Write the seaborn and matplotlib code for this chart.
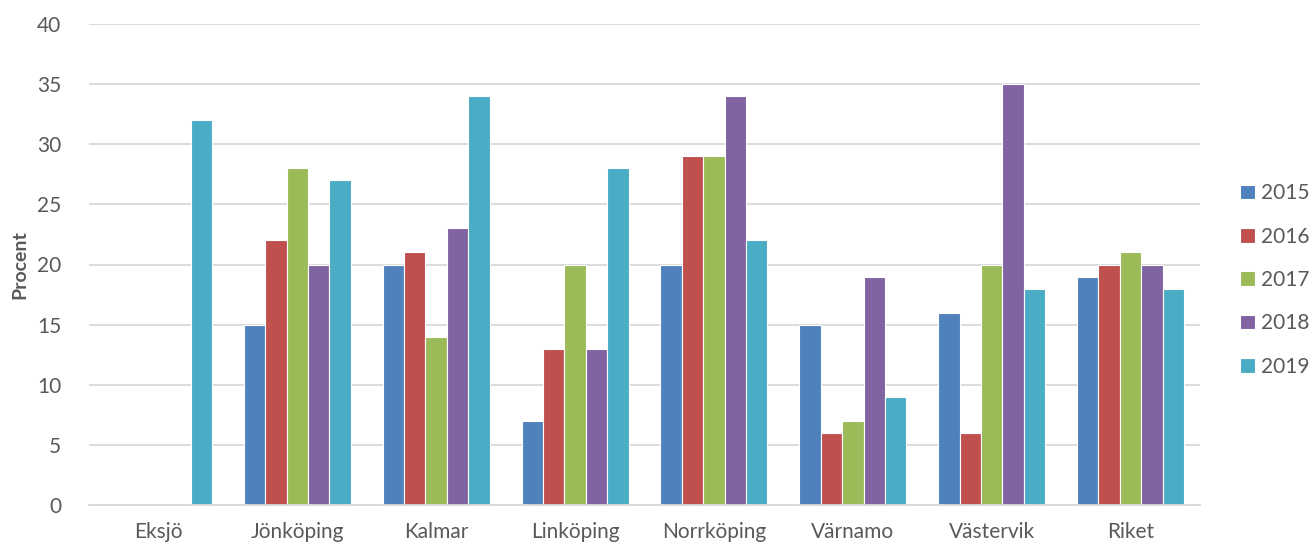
import numpy as np
import pandas as pd
import matplotlib
matplotlib.use("Agg")
import matplotlib.pyplot as plt
import seaborn as sns

# ── Data ──────────────────────────────────────────────────────────────────
CITIES = ["Eksjö", "Jönköping", "Kalmar", "Linköping", "Norrköping",
          "Värnamo", "Västervik", "Riket"]
YEARS = ["2015", "2016", "2017", "2018", "2019"]
V2015 = [np.nan, 15, 20, 7, 20, 15, 16, 19]
V2016 = [np.nan, 22, 21, 13, 29, 6, 6, 20]
V2017 = [np.nan, 28, 14, 20, 29, 7, 20, 21]
V2018 = [np.nan, 20, 23, 13, 34, 19, 35, 20]
V2019 = [32, 27, 34, 28, 22, 9, 18, 18]
YTICKS = [0, 5, 10, 15, 20, 25, 30, 35, 40]

PALETTE = ["#4F81BD", "#C0504D", "#9BBB59", "#8064A2", "#4BACC6"]

df = pd.DataFrame({"Stad": CITIES, "2015": V2015, "2016": V2016, "2017": V2017,
                   "2018": V2018, "2019": V2019})
long = df.melt(id_vars="Stad", var_name="År", value_name="Procent")

sns.set_theme(style="white")
plt.rcParams["font.family"] = ["Lato", "DejaVu Sans"]

fig = plt.figure(figsize=(13.12, 5.45), dpi=100)
ax = fig.add_axes([89 / 1312, 40 / 545, (1200 - 89) / 1312, (505 - 24) / 545])

sns.barplot(data=long, x="Stad", y="Procent", hue="År", order=CITIES,
            hue_order=YEARS, palette=PALETTE, width=0.77, saturation=1,
            edgecolor="white", linewidth=0.8, errorbar=None, ax=ax)

ax.set_ylim(0, 40)
ax.set_yticks(YTICKS)
ax.set_xlim(-0.5, len(CITIES) - 0.5)
ax.yaxis.grid(True, color="#D9D9D9", linewidth=1.3)
ax.set_axisbelow(True)
for s in ["top", "right", "left"]:
    ax.spines[s].set_visible(False)
ax.spines["bottom"].set_color("#D9D9D9")
ax.spines["bottom"].set_linewidth(1.3)
ax.tick_params(axis="y", length=0, pad=20, labelsize=15, labelcolor="#595959")
ax.tick_params(axis="x", length=0, pad=12, labelsize=15, labelcolor="#595959")
ax.set_xlabel("")
ax.set_ylabel("Procent", fontsize=14, fontweight="bold", color="#595959", labelpad=6)

leg = ax.legend(loc="center left", frameon=False,
                borderaxespad=0, borderpad=0,
                fontsize=15, handlelength=0.7, handleheight=0.7,
                handletextpad=0.3, labelspacing=1.12, labelcolor="#595959")
# legend handles start near x=1240 px, centred around y=280 px
leg.set_bbox_to_anchor((1240 / 1312, 1 - 280 / 545), transform=fig.transFigure)

plt.savefig("out.png", dpi=100)
